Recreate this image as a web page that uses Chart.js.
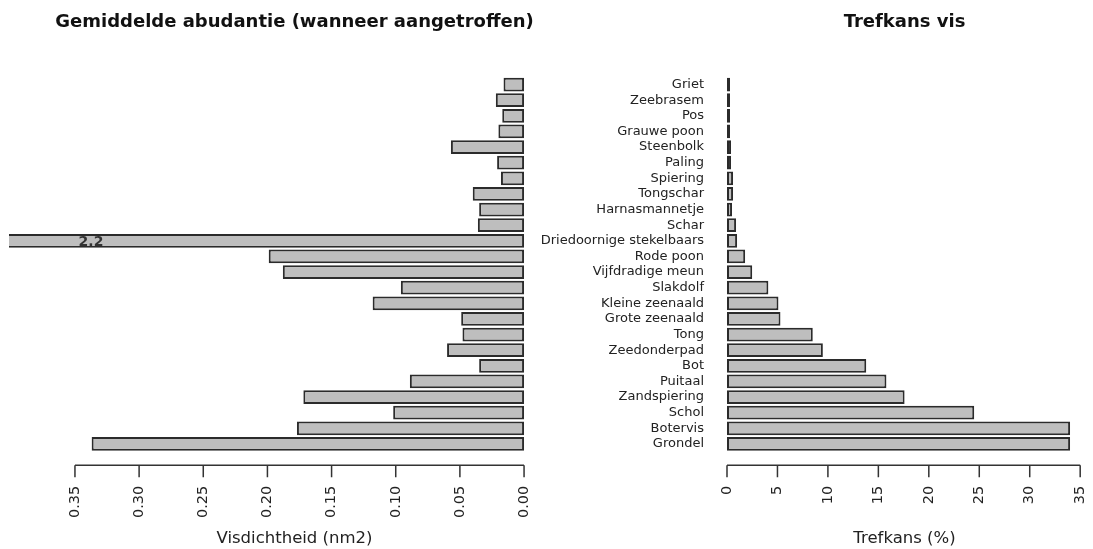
<!DOCTYPE html>
<html>
<head>
<meta charset="utf-8">
<script src="https://cdn.jsdelivr.net/npm/chart.js@4.4.1/dist/chart.umd.min.js"></script>
<style>
  html, body { margin: 0; padding: 0; background: #fff; }
  #wrap { position: relative; width: 1093px; height: 549px; overflow: hidden; }
  canvas { position: absolute; top: 0; }
  #abundChart { left: 0; }
  #trefChart { left: 540px; }
</style>
</head>
<body>
<div id="wrap">
  <canvas id="abundChart" width="600" height="549"></canvas>
  <canvas id="trefChart" width="553" height="549"></canvas>
</div>
<script>
const species = ['Griet', 'Zeebrasem', 'Pos', 'Grauwe poon', 'Steenbolk', 'Paling', 'Spiering',
    'Tongschar', 'Harnasmannetje', 'Schar', 'Driedoornige stekelbaars', 'Rode poon',
    'Vijfdradige meun', 'Slakdolf', 'Kleine zeenaald', 'Grote zeenaald', 'Tong',
    'Zeedonderpad', 'Bot', 'Puitaal', 'Zandspiering', 'Schol', 'Botervis', 'Grondel'];

// mean density where the species was found (nm2)
const abundance = [0.016, 0.022, 0.017, 0.020, 0.057, 0.021, 0.018, 0.040, 0.035, 0.036,
    2.2, 0.199, 0.188, 0.096, 0.118, 0.049, 0.048, 0.060, 0.035, 0.089, 0.172, 0.102, 0.177, 0.337];

// catch probability (%)
const trefkans = [0.3, 0.3, 0.3, 0.3, 0.4, 0.4, 0.6, 0.6, 0.5, 0.9, 1.0, 1.8, 2.5, 4.1,
    5.1, 5.3, 8.5, 9.5, 13.8, 15.8, 17.6, 24.5, 34.0, 34.0];

const abundTicks = [0, 0.05, 0.10, 0.15, 0.20, 0.25, 0.30, 0.35];
const trefTicks = [0, 5, 10, 15, 20, 25, 30, 35];

const FONT = 'DejaVu Sans';
const TEXT = '#222';
const BAR_FILL = '#bebebe';
const BAR_EDGE = '#2b2b2b';

// R style bottom axis: line only from first to last tick, ticks pointing down
const baseAxis = {
    id: 'baseAxis',
    afterDraw(chart) {
        const ctx = chart.ctx;
        const sx = chart.scales.x;
        const y = chart.chartArea.bottom + 13.5;
        const vals = chart.options.axisTicks;
        const x0 = sx.getPixelForValue(vals[0]);
        const x1 = sx.getPixelForValue(vals[vals.length - 1]);
        ctx.save();
        ctx.strokeStyle = '#333';
        ctx.lineWidth = 1.5;
        ctx.beginPath();
        ctx.moveTo(x0, y);
        ctx.lineTo(x1, y);
        vals.forEach(v => {
            const x = sx.getPixelForValue(v);
            ctx.moveTo(x, y);
            ctx.lineTo(x, y + 12);
        });
        ctx.stroke();
        ctx.restore();
    }
};

// panel title centred above the plot region
const panelTitle = {
    id: 'panelTitle',
    afterDraw(chart) {
        const ctx = chart.ctx;
        const area = chart.chartArea;
        ctx.save();
        ctx.font = 'bold 18px "' + FONT + '"';
        ctx.fillStyle = '#111';
        ctx.textAlign = 'center';
        ctx.textBaseline = 'middle';
        ctx.fillText(chart.options.panelTitle, (area.left + area.right) / 2, 22);
        ctx.restore();
    }
};

// value note on the bar that runs off the axis
const offscaleNote = {
    id: 'offscaleNote',
    afterDatasetsDraw(chart) {
        const meta = chart.getDatasetMeta(0);
        const idx = abundance.findIndex(v => v > abundTicks[abundTicks.length - 1]);
        if (idx < 0) return;
        const bar = meta.data[idx];
        const ctx = chart.ctx;
        ctx.save();
        ctx.font = 'bold 14px "' + FONT + '"';
        ctx.fillStyle = '#333';
        ctx.textAlign = 'center';
        ctx.textBaseline = 'middle';
        ctx.fillText(String(abundance[idx]), chart.chartArea.left + 82, bar.y + 2);
        ctx.restore();
    }
};

function barDataset(values) {
    return {
        data: values,
        backgroundColor: BAR_FILL,
        borderColor: BAR_EDGE,
        borderWidth: 2,
        borderSkipped: false,
        barPercentage: 0.88,
        categoryPercentage: 1
    };
}

function xAxis(opts) {
    return {
        type: 'linear',
        reverse: opts.reverse,
        min: opts.min,
        max: opts.max,
        afterBuildTicks: scale => { scale.ticks = opts.ticks.map(v => ({ value: v })); },
        afterFit: scale => {
            scale.height = 97.2;
            scale.paddingLeft = 0;
            scale.paddingRight = 0;
        },
        grid: { display: false, drawTicks: false },
        border: { display: false },
        ticks: {
            autoSkip: false,
            minRotation: 90,
            maxRotation: 90,
            padding: 34,
            color: TEXT,
            font: { family: FONT, size: 14.5 },
            callback: opts.format
        },
        title: {
            display: true,
            text: opts.title,
            color: TEXT,
            padding: 0,
            font: { family: FONT, size: 16.5 }
        }
    };
}

new Chart(document.getElementById('abundChart'), {
    type: 'bar',
    data: { labels: species, datasets: [barDataset(abundance)] },
    plugins: [baseAxis, panelTitle, offscaleNote],
    options: {
        indexAxis: 'y',
        responsive: false,
        animation: false,
        events: [],
        panelTitle: 'Gemiddelde abudantie (wanneer aangetroffen)',
        axisTicks: abundTicks,
        layout: { padding: { top: 76.7, left: 9, right: 20, bottom: 0 } },
        plugins: { legend: { display: false }, tooltip: { enabled: false } },
        scales: {
            x: xAxis({
                reverse: true, min: -0.0436, max: 0.4014, ticks: abundTicks,
                format: v => v.toFixed(2), title: 'Visdichtheid (nm2)'
            }),
            y: { display: false }
        }
    }
});

new Chart(document.getElementById('trefChart'), {
    type: 'bar',
    data: { labels: species, datasets: [barDataset(trefkans)] },
    plugins: [baseAxis, panelTitle],
    options: {
        indexAxis: 'y',
        responsive: false,
        animation: false,
        events: [],
        panelTitle: 'Trefkans vis',
        axisTicks: trefTicks,
        layout: { padding: { top: 76.7, left: 0, right: 0, bottom: 0 } },
        plugins: { legend: { display: false }, tooltip: { enabled: false } },
        scales: {
            x: xAxis({
                reverse: false, min: -1.09, max: 36.27, ticks: trefTicks,
                format: v => String(v), title: 'Trefkans (%)'
            }),
            y: {
                afterFit: scale => { scale.width = 176; },
                grid: { display: false, drawTicks: false },
                border: { display: false },
                ticks: {
                    autoSkip: false,
                    padding: 12,
                    color: TEXT,
                    font: { family: FONT, size: 13 }
                }
            }
        }
    }
});
</script>
</body>
</html>
